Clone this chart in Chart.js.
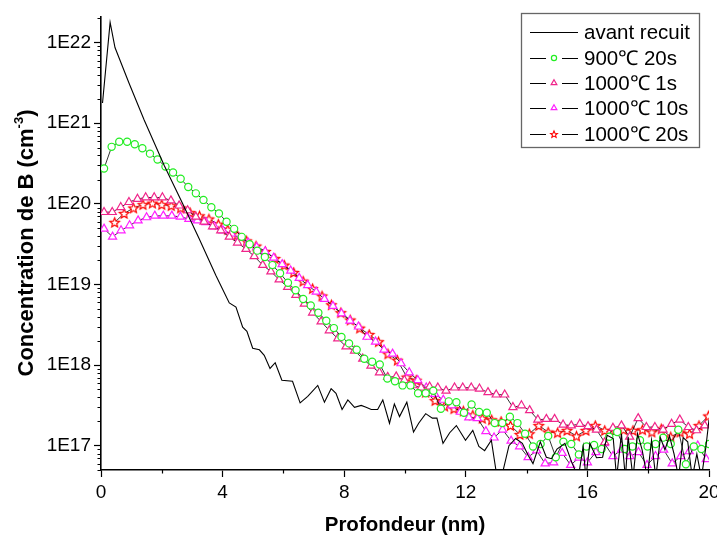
<!DOCTYPE html>
<html>
<head>
<meta charset="utf-8">
<script src="https://cdn.jsdelivr.net/npm/chart.js@4.4.1/dist/chart.umd.min.js"></script>
<style>
  html, body { margin: 0; padding: 0; background: #fff; }
</style>
</head>
<body>
<canvas id="profile-chart" width="717" height="537"></canvas>
<script>
"use strict";

// SIMS boron profiles (depth in nm, concentration in cm-3)

const seriesNames = ["avant recuit", "900\u2103 20s", "1000\u2103 1s", "1000\u2103 10s", "1000\u2103 20s"];

// as-implanted profile (plain line)
const depthAvant = [0.05, 0.30, 0.46, 0.92, 1.42, 2.08, 2.68, 3.23, 3.78, 4.22, 4.44, 4.66, 4.80, 4.99, 5.21, 5.37, 5.56, 5.73, 5.95, 6.30,
  6.55, 6.80, 7.13, 7.35, 7.57, 7.73, 7.93, 8.12, 8.34, 8.56, 8.72, 8.89, 9.10, 9.27, 9.49, 9.65, 9.82, 10.06, 10.28, 10.45,
  10.68, 10.90, 11.05, 11.25, 11.47, 11.69, 11.99, 12.23, 12.43, 12.62, 12.84, 13.03, 13.17, 13.42, 13.64, 13.86, 14.05, 14.21, 14.45, 14.65,
  14.82, 15.00, 15.26, 15.48, 15.70, 15.86, 15.95, 16.08, 16.30, 16.50, 16.65, 16.85, 16.96, 17.12, 17.25, 17.34, 17.50, 17.65, 17.80, 17.97,
  18.11, 18.25, 18.40, 18.55, 18.70, 18.85, 19.00, 19.15, 19.30, 19.45, 19.60, 19.75, 19.90, 20.00];
const concAvant = [1.78e21, 1.78e22, 8.7e21, 3.16e21, 1.1e21, 3.0e20, 1.02e20, 3.7e19, 1.29e19, 5.9e18, 5.25e18, 2.95e18, 2.63e18, 1.62e18, 1.55e18, 1.32e18, 9.1e17, 1.07e18, 6.5e17, 6.3e17,
  3.4e17, 4.1e17, 5.6e17, 3.47e17, 5.1e17, 4.47e17, 2.82e17, 3.7e17, 3.0e17, 3.16e17, 3.0e17, 2.82e17, 2.82e17, 3.7e17, 1.9e17, 3.3e17, 2.3e17, 3.47e17, 1.48e17, 1.9e17,
  2.5e17, 2.2e17, 2.2e17, 1.07e17, 1.45e17, 1.78e17, 1.17e17, 1.55e17, 9.8e16, 8.7e16, 1.17e17, 4e16, 4e16, 1.0e17, 1.23e17, 1.07e17, 7.6e16, 6.0e16, 1.12e17, 7.2e16,
  6.9e16, 9.1e16, 1.07e17, 6.3e16, 4e16, 9.8e16, 4e16, 1.07e17, 7.1e16, 7.2e16, 1.35e17, 1.23e17, 4e16, 1.41e17, 4e16, 1.29e17, 4e16, 1.41e17, 8.9e16, 4e16,
  1.17e17, 4e16, 1.26e17, 8.9e16, 1.32e17, 7.9e16, 4e16, 1.26e17, 1.12e17, 4e16, 7.9e16, 4e16, 9.8e16, 2.1e17];

// 900C 20s (circles)
const depth900 = [0.10, 0.35, 0.60, 0.86, 1.11, 1.36, 1.61, 1.86, 2.12, 2.37, 2.62, 2.87, 3.12, 3.37, 3.63, 3.88, 4.13, 4.38, 4.63, 4.89,
  5.14, 5.39, 5.64, 5.89, 6.15, 6.40, 6.65, 6.90, 7.15, 7.41, 7.66, 7.91, 8.16, 8.41, 8.66, 8.92, 9.17, 9.42, 9.67, 9.92,
  10.18, 10.43, 10.68, 10.93, 11.18, 11.44, 11.69, 11.94, 12.19, 12.44, 12.69, 12.95, 13.20, 13.45, 13.70, 13.95, 14.21, 14.46, 14.71, 14.96,
  15.21, 15.47, 15.72, 15.97, 16.22, 16.47, 16.72, 16.98, 17.23, 17.48, 17.73, 17.98, 18.24, 18.49, 18.74, 18.99, 19.24, 19.50, 19.75, 20.00];
const conc900 = [2.75e20, 5.1e20, 5.9e20, 5.9e20, 5.5e20, 4.9e20, 4.2e20, 3.55e20, 2.9e20, 2.45e20,
  2.05e20, 1.62e20, 1.35e20, 1.12e20, 9.1e19, 7.6e19, 6.0e19, 4.9e19, 3.9e19, 3.16e19,
  2.63e19, 2.19e19, 1.74e19, 1.38e19, 1.05e19, 8.5e18, 6.6e18, 5.5e18, 4.47e18, 3.55e18,
  2.88e18, 2.24e18, 1.86e18, 1.55e18, 1.2e18, 1.1e18, 1.02e18, 6.8e17, 6.3e17, 5.6e17,
  5.6e17, 4.47e17, 4.47e17, 4.8e17, 2.88e17, 3.55e17, 3.47e17, 2.57e17, 3.24e17, 2.63e17,
  2.57e17, 1.91e17, 1.91e17, 2.29e17, 1.91e17, 1.41e17, 9.8e16, 1.05e17, 1.32e17, 7.2e16,
  1.12e17, 1.05e17, 7.8e16, 9.8e16, 1.02e17, 9.1e16, 1.29e17, 1.48e17, 9.1e16, 9.8e16,
  1.17e17, 9.8e16, 1.05e17, 1.26e17, 1.05e17, 1.58e17, 5.9e16, 9.8e16, 9.1e16, 1.05e17];

// 1000C 1s (pink triangles)
const depth1s = [0.10, 0.37, 0.65, 0.92, 1.20, 1.47, 1.75, 2.02, 2.30, 2.57, 2.85, 3.12, 3.39, 3.67, 3.94, 4.22, 4.49, 4.77, 5.04, 5.32,
  5.59, 5.86, 6.14, 6.41, 6.69, 6.96, 7.24, 7.51, 7.79, 8.06, 8.34, 8.61, 8.88, 9.16, 9.43, 9.71, 9.98, 10.26, 10.53, 10.81,
  11.08, 11.35, 11.63, 11.90, 12.18, 12.45, 12.73, 13.00, 13.28, 13.55, 13.83, 14.10, 14.37, 14.65, 14.92, 15.20, 15.47, 15.75, 16.02, 16.30,
  16.57, 16.84, 17.12, 17.39, 17.67, 17.94, 18.22, 18.49, 18.77, 19.04, 19.32, 19.59, 19.86];
const conc1s = [7.9e19, 7.9e19, 9.1e19, 1.05e20, 1.15e20, 1.2e20, 1.2e20, 1.2e20, 1.1e20, 9.5e19,
  8.3e19, 6.9e19, 6.0e19, 5.25e19, 4.68e19, 3.9e19, 3.3e19, 2.75e19, 2.24e19, 1.74e19,
  1.45e19, 1.15e19, 9.3e18, 7.4e18, 5.75e18, 4.47e18, 3.47e18, 2.69e18, 2.14e18, 1.7e18,
  1.51e18, 1.2e18, 9.8e17, 8.1e17, 7.1e17, 7.2e17, 6.5e17, 5.6e17, 5.25e17, 5.4e17,
  5.25e17, 4.8e17, 5.25e17, 5.25e17, 5.25e17, 5.1e17, 4.6e17, 4.3e17, 4.3e17, 3.0e17,
  3.16e17, 2.75e17, 2.1e17, 2.14e17, 2.14e17, 1.82e17, 1.78e17, 1.86e17, 1.74e17, 1.58e17,
  1.1e17, 1.66e17, 1.78e17, 1.29e17, 2.19e17, 1.7e17, 1.7e17, 1.58e17, 1.86e17, 2.1e17,
  1.7e17, 1.55e17, 1.78e17];

// 1000C 10s (magenta triangles)
const depth10s = [0.10, 0.38, 0.66, 0.94, 1.22, 1.50, 1.77, 2.05, 2.33, 2.61, 2.89, 3.17, 3.45, 3.73, 4.01, 4.29, 4.56, 4.84, 5.12, 5.40,
  5.68, 5.96, 6.24, 6.52, 6.80, 7.08, 7.35, 7.63, 7.91, 8.19, 8.47, 8.75, 9.03, 9.31, 9.59, 9.87, 10.14, 10.42, 10.70, 10.98,
  11.26, 11.54, 11.82, 12.10, 12.38, 12.66, 12.93, 13.21, 13.49, 13.77, 14.05, 14.33, 14.61, 14.89, 15.17, 15.45, 15.72, 16.00, 16.28, 16.56,
  16.84, 17.12, 17.40, 17.68, 17.96, 18.24, 18.51, 18.79, 19.07, 19.35, 19.63, 19.91];
const conc10s = [4.9e19, 3.9e19, 4.68e19, 5.4e19, 6.2e19, 6.8e19, 7.1e19, 7.1e19, 7.1e19, 6.9e19,
  6.5e19, 6.2e19, 5.9e19, 5.25e19, 4.68e19, 4.27e19, 3.8e19, 3.3e19, 2.9e19, 2.57e19,
  2.14e19, 1.78e19, 1.48e19, 1.2e19, 9.8e18, 8.1e18, 6.6e18, 5.4e18, 4.37e18, 3.55e18,
  3.0e18, 2.24e18, 1.95e18, 1.55e18, 1.38e18, 1.05e18, 8.1e17, 6.5e17, 5.25e17, 4.37e17,
  3.7e17, 3.16e17, 2.63e17, 2.24e17, 2.19e17, 1.51e17, 1.26e17, 1.58e17, 1.15e17, 9.8e16,
  7.2e16, 8.7e16, 6.0e16, 6.2e16, 8.1e16, 5.75e16, 7.1e16, 6.2e16, 8.3e16, 1.07e17,
  7.4e16, 8.9e16, 7.4e16, 8.3e16, 5.75e16, 7.4e16, 8.9e16, 6.0e16, 7.4e16, 8.5e16,
  1.0e17, 6.8e16];

// 1000C 20s (red stars)
const depth20s = [0.45, 0.76, 1.07, 1.38, 1.69, 2.00, 2.31, 2.62, 2.93, 3.24, 3.55, 3.86, 4.17, 4.48, 4.79, 5.10, 5.41, 5.72, 6.03, 6.34,
  6.65, 6.96, 7.27, 7.58, 7.89, 8.20, 8.51, 8.82, 9.13, 9.44, 9.75, 10.06, 10.37, 10.68, 10.99, 11.30, 11.61, 11.92, 12.23, 12.54,
  12.85, 13.16, 13.47, 13.78, 14.09, 14.40, 14.71, 15.02, 15.33, 15.64, 15.95, 16.26, 16.57, 16.88, 17.19, 17.50, 17.81, 18.12, 18.43, 18.74,
  19.05, 19.36, 19.67, 19.98];
const conc20s = [5.9e19, 7.6e19, 8.9e19, 9.8e19, 1.02e20, 9.8e19, 9.5e19, 8.9e19, 7.8e19, 7.1e19,
  6.5e19, 5.6e19, 4.8e19, 4.1e19, 3.47e19, 3.0e19, 2.57e19, 2.1e19, 1.74e19, 1.41e19,
  1.1e19, 8.9e18, 7.2e18, 5.6e18, 4.47e18, 3.63e18, 2.88e18, 2.4e18, 1.95e18, 1.38e18,
  1.15e18, 7.1e17, 6.5e17, 4.6e17, 3.63e17, 3.1e17, 2.88e17, 2.7e17, 2.4e17, 2.19e17,
  2.1e17, 2.0e17, 1.78e17, 1.38e17, 1.41e17, 1.78e17, 1.48e17, 1.45e17, 1.55e17, 1.32e17,
  1.55e17, 1.78e17, 1.55e17, 1.55e17, 1.58e17, 1.55e17, 1.58e17, 1.48e17, 1.62e17, 1.29e17,
  1.48e17, 1.41e17, 1.78e17, 2.34e17];

// axis ticks
const xTickStep = 4;
const xMinorTicks = [2, 6, 10, 14, 18];
const yTickValues = [1e17, 1e18, 1e19, 1e20, 1e21, 1e22];
const yTickLabels = ["1E17", "1E18", "1E19", "1E20", "1E21", "1E22"];

const xTitle = "Profondeur (nm)";
const yTitle = ["Concentration de B (cm", "-3", ")"];

const FONT = "'Liberation Sans', Arial, sans-serif";

function toPoints(depth, conc) {
  return depth.map((d, i) => ({ x: d, y: conc[i] }));
}

// hollow five-point star, used as a point style
function makeStar(outer, color, lw) {
  const inner = outer * 0.45;
  const size = Math.ceil(outer * 2 + lw * 2 + 2);
  const c = document.createElement("canvas");
  c.width = size;
  c.height = size;
  const g = c.getContext("2d");
  g.translate(size / 2, size / 2 + 0.5);
  g.beginPath();
  for (let i = 0; i < 10; i++) {
    const r = i % 2 === 0 ? outer : inner;
    const a = -Math.PI / 2 + i * Math.PI / 5;
    g.lineTo(r * Math.cos(a), r * Math.sin(a));
  }
  g.closePath();
  g.fillStyle = "#fff";
  g.fill();
  g.strokeStyle = color;
  g.lineWidth = lw;
  g.stroke();
  return c;
}

const starBig = makeStar(5, "#ff0000", 1.2);
const starSmall = makeStar(3.6, "#ff0000", 1.1);

const markerStyles = [
  null,
  { style: "circle", color: "#22ee22", radius: 3.6, legendRadius: 2.6 },
  { style: "triangle", color: "#f0258a", radius: 4.7, legendRadius: 3.3 },
  { style: "triangle", color: "#ff20ff", radius: 4.7, legendRadius: 3.3 },
  { style: "star", color: "#ff0000", radius: 4.5, legendRadius: 3.2 },
];

function markerDataset(label, depth, conc, m) {
  return {
    label: label,
    data: toPoints(depth, conc),
    borderColor: "#000",
    borderWidth: 0.8,
    pointStyle: m.style === "star" ? starBig : m.style,
    pointRadius: m.radius,
    pointBorderColor: m.color,
    pointBackgroundColor: "#fff",
    pointBorderWidth: 1.2,
    tension: 0,
  };
}

// minor ticks, axis titles and the framed legend
const decorPlugin = {
  id: "decor",
  afterDraw(chart) {
    const ctx = chart.ctx;
    const area = chart.chartArea;
    const xs = chart.scales.x;
    const ys = chart.scales.y;
    ctx.save();
    ctx.strokeStyle = "#000";
    ctx.lineWidth = 1.2;
    // y minor ticks
    ctx.beginPath();
    for (let e = 16; e <= 22; e++) {
      for (let k = 2; k <= 9; k++) {
        const v = k * Math.pow(10, e);
        if (v < ys.min || v > ys.max) continue;
        const py = Math.round(ys.getPixelForValue(v)) + 0.5;
        ctx.moveTo(area.left - 3.5, py);
        ctx.lineTo(area.left, py);
      }
    }
    // x minor ticks
    xMinorTicks.forEach((v) => {
      const px = Math.round(xs.getPixelForValue(v)) + 0.5;
      ctx.moveTo(px, area.bottom);
      ctx.lineTo(px, area.bottom + 3.5);
    });
    ctx.stroke();

    // axis titles
    ctx.fillStyle = "#000";
    ctx.textBaseline = "alphabetic";
    ctx.font = "bold 20.5px " + FONT;
    ctx.textAlign = "center";
    ctx.fillText(xTitle, (area.left + area.right) / 2, 531);

    ctx.save();
    ctx.translate(33, 243);
    ctx.rotate(-Math.PI / 2);
    ctx.textAlign = "left";
    ctx.font = "bold 22px " + FONT;
    const w1 = ctx.measureText(yTitle[0]).width;
    const w3 = ctx.measureText(yTitle[2]).width;
    ctx.font = "bold 13px " + FONT;
    const w2 = ctx.measureText(yTitle[1]).width;
    const x0 = -(w1 + w2 + w3) / 2;
    ctx.font = "bold 22px " + FONT;
    ctx.fillText(yTitle[0], x0, 0);
    ctx.fillText(yTitle[2], x0 + w1 + w2, 0);
    ctx.font = "bold 13px " + FONT;
    ctx.fillText(yTitle[1], x0 + w1, -10);
    ctx.restore();

    // legend
    const box = { left: 521.5, top: 13.5, width: 178, height: 134 };
    ctx.strokeStyle = "#666";
    ctx.lineWidth = 1.3;
    ctx.strokeRect(box.left, box.top, box.width, box.height);
    const rows = [32, 58, 83, 108, 134];
    ctx.font = "20.5px " + FONT;
    ctx.textAlign = "left";
    ctx.textBaseline = "middle";
    seriesNames.forEach((name, i) => {
      const y = rows[i];
      const m = markerStyles[i];
      ctx.strokeStyle = "#000";
      ctx.lineWidth = 1;
      ctx.beginPath();
      if (!m) {
        ctx.moveTo(530, y + 0.5);
        ctx.lineTo(578, y + 0.5);
      } else {
        ctx.moveTo(530, y + 0.5);
        ctx.lineTo(546, y + 0.5);
        ctx.moveTo(562, y + 0.5);
        ctx.lineTo(578, y + 0.5);
      }
      ctx.stroke();
      if (m) {
        const cx = 554;
        const r = m.legendRadius;
        ctx.strokeStyle = m.color;
        ctx.lineWidth = 1.2;
        ctx.beginPath();
        if (m.style === "circle") {
          ctx.arc(cx, y, r, 0, Math.PI * 2);
          ctx.stroke();
        } else if (m.style === "triangle") {
          ctx.moveTo(cx, y - r);
          ctx.lineTo(cx + r * 0.866, y + r * 0.5);
          ctx.lineTo(cx - r * 0.866, y + r * 0.5);
          ctx.closePath();
          ctx.stroke();
        } else {
          ctx.drawImage(starSmall, cx - starSmall.width / 2, y - starSmall.height / 2);
        }
      }
      ctx.fillStyle = "#000";
      ctx.fillText(name, 584, y + 1);
    });
    ctx.restore();
  },
};

const ctx = document.getElementById("profile-chart").getContext("2d");

const profileChart = new Chart(ctx, {
  type: "line",
  data: {
    datasets: [
      {
        label: seriesNames[0],
        data: toPoints(depthAvant, concAvant),
        borderColor: "#000",
        borderWidth: 1.1,
        pointRadius: 0,
        tension: 0,
      },
      markerDataset(seriesNames[1], depth900, conc900, markerStyles[1]),
      markerDataset(seriesNames[2], depth1s, conc1s, markerStyles[2]),
      markerDataset(seriesNames[3], depth10s, conc10s, markerStyles[3]),
      markerDataset(seriesNames[4], depth20s, conc20s, markerStyles[4]),
    ],
  },
  options: {
    responsive: false,
    animation: false,
    events: [],
    layout: { padding: { top: 17, right: 8, left: 0, bottom: 0 } },
    plugins: {
      legend: { display: false },
      tooltip: { enabled: false },
    },
    scales: {
      x: {
        type: "linear",
        position: "bottom",
        min: 0,
        max: 20,
        grid: { drawOnChartArea: false, drawTicks: true, tickLength: 7, tickWidth: 1.2, tickColor: "#000" },
        border: { display: true, color: "#000", width: 1.6 },
        ticks: {
          stepSize: xTickStep,
          color: "#000",
          font: { family: FONT, size: 19 },
          padding: 4,
          maxRotation: 0,
          autoSkip: false,
        },
        afterFit(scale) {
          scale.height = 67;
          scale.paddingLeft = 0;
          scale.paddingRight = 0;
        },
      },
      y: {
        type: "logarithmic",
        position: "left",
        min: 5e16,
        max: 2.08e22,
        grid: { drawOnChartArea: false, drawTicks: true, tickLength: 7, tickWidth: 1.2, tickColor: "#000" },
        border: { display: true, color: "#000", width: 1.6 },
        afterBuildTicks(scale) {
          scale.ticks = yTickValues.map((v) => ({ value: v, major: true }));
        },
        ticks: {
          color: "#000",
          font: { family: FONT, size: 19 },
          padding: 3,
          autoSkip: false,
          callback: (value) => yTickLabels[yTickValues.indexOf(value)] || "",
        },
        afterFit(scale) {
          scale.width = 101;
          scale.paddingTop = 0;
          scale.paddingBottom = 0;
        },
      },
    },
  },
  plugins: [decorPlugin],
});
</script>
</body>
</html>
